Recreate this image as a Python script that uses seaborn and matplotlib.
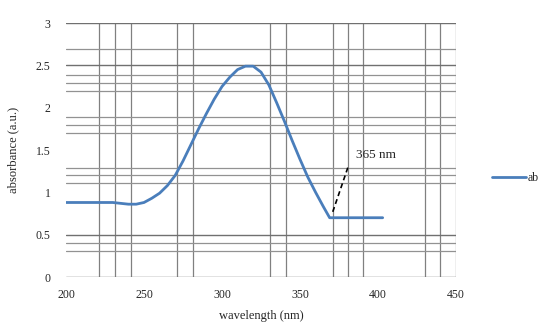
import matplotlib
matplotlib.use("Agg")
import matplotlib.pyplot as plt
import seaborn as sns
import pandas as pd

# ---- data ----
wavelength = [200, 210, 220, 230, 235, 240, 245, 250, 255, 260, 265, 270, 275, 280,
              285, 290, 295, 300, 305, 310, 315, 320, 325, 330, 335, 340, 345, 350,
              355, 360, 365, 369, 375, 385, 395, 403]
absorbance = [0.88, 0.88, 0.88, 0.88, 0.87, 0.86, 0.86, 0.88, 0.93, 0.99, 1.08, 1.20,
              1.37, 1.56, 1.75, 1.93, 2.10, 2.25, 2.36, 2.45, 2.49, 2.49, 2.42, 2.27,
              2.06, 1.84, 1.61, 1.39, 1.18, 1.00, 0.83, 0.70, 0.70, 0.70, 0.70, 0.70]
series_name = "ab"

x_ticks = [200, 250, 300, 350, 400, 450]
y_ticks = [0, 0.5, 1, 1.5, 2, 2.5, 3]
y_tick_labels = ["0", "0.5", "1", "1.5", "2", "2.5", "3"]

x_grid = [221.3, 231.4, 241.7, 271.3, 281.6, 330.8, 341, 371.2, 380.8, 390.4, 430, 439.7, 450]
y_grid_major = [0, 0.5, 2.5, 3]
y_grid_minor = [0.40, 0.31, 1.11, 1.20, 1.29, 1.70, 1.79, 1.89, 2.20, 2.29, 2.39, 2.69]

annot_text = "365 nm"
annot_line_x = [371, 380.8]
annot_line_y = [0.77, 1.30]
annot_text_pos = (386, 1.44)

# ---- style ----
sns.set_style("white")
plt.rcParams['font.family'] = ['Liberation Serif', 'DejaVu Serif']

fig = plt.figure(figsize=(5.43, 3.34), dpi=100)
ax = fig.add_axes([66/543, 1 - 277/334, (456 - 66)/543, (277 - 23)/334])

df = pd.DataFrame({"wavelength": wavelength, "absorbance": absorbance, "series": series_name})

for gx in x_grid:
    ax.axvline(gx, color="#808080", lw=0.9, zorder=1)
for gy in y_grid_minor:
    ax.axhline(gy, color="#929292", lw=0.9, zorder=1)
for gy in y_grid_major:
    ax.axhline(gy, color="#707070", lw=1.0, zorder=1)

sns.lineplot(data=df, x="wavelength", y="absorbance", hue="series",
             palette=["#4a7ebb"], lw=2.0, ax=ax, zorder=3, legend=False)

ax.plot(annot_line_x, annot_line_y, color="black", lw=1.2, ls=(0, (3, 2)), zorder=4)
ax.text(annot_text_pos[0], annot_text_pos[1], annot_text, fontsize=9.5, va="center", ha="left")

ax.set_xlim(200, 450)
ax.set_ylim(0, 3)
ax.set_xticks(x_ticks)
ax.set_yticks(y_ticks)
ax.set_yticklabels(y_tick_labels)
ax.tick_params(axis="x", length=0, pad=9, labelsize=8.5)
ax.tick_params(axis="y", length=3, width=1.0, color="#707070", pad=8, labelsize=8.5)
for s in ax.spines.values():
    s.set_visible(False)

ax.set_xlabel("wavelength (nm)", fontsize=9, labelpad=6)
ax.set_ylabel("absorbance (a.u.)", fontsize=9, labelpad=12)

handle = plt.Line2D([], [], color="#4a7ebb", lw=2.0)
fig.legend([handle], [series_name], loc="center left",
           bbox_to_anchor=(492/543, 1 - 178/334), bbox_transform=fig.transFigure,
           frameon=False, fontsize=8.5, borderpad=0, borderaxespad=0,
           handlelength=2.9, handletextpad=0.15)

fig.savefig("out.png", dpi=100)
